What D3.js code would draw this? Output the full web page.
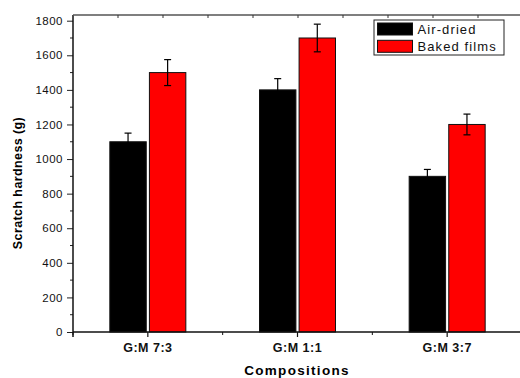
<!DOCTYPE html>
<html>
<head>
<meta charset="utf-8">
<script src="https://cdn.jsdelivr.net/npm/d3@7"></script>
<style>
  body { margin: 0; background: #fff; }
  svg { display: block; font-family: "Liberation Sans", Arial, sans-serif; }
</style>
</head>
<body>
<svg width="520" height="378"></svg>
<script>
// data
const categories = ['G:M 7:3', 'G:M 1:1', 'G:M 3:7'];
const seriesNames = ['Air-dried', 'Baked films'];
const airDried = [1100, 1400, 900];
const airDriedErr = [50, 65, 40];
const baked = [1500, 1700, 1200];
const bakedErr = [75, 80, 60];
const yTicks = [0, 200, 400, 600, 800, 1000, 1200, 1400, 1600, 1800];
const colors = ['#000000', '#ff0000'];

const svg = d3.select('svg');

const plotLeft = 73, plotRight = 522, plotTop = 15, plotBottom = 332;

const y = d3.scaleLinear().domain([0, 1800]).range([plotBottom, 20.7]);
const x = d3.scaleBand().domain(categories).range([plotLeft, plotRight]).padding(0);
const xs = d3.scaleBand().domain(seriesNames).range([-38, 38]).paddingInner(0.08);

const series = [
  { name: seriesNames[0], vals: airDried, errs: airDriedErr, color: colors[0] },
  { name: seriesNames[1], vals: baked, errs: bakedErr, color: colors[1] },
];

// bars
const groups = svg.append('g').selectAll('g')
  .data(series)
  .join('g');

groups.selectAll('rect')
  .data(s => s.vals.map((v, i) => ({ cat: categories[i], v, e: s.errs[i], s })))
  .join('rect')
  .attr('x', d => x(d.cat) + x.bandwidth() / 2 + xs(d.s.name))
  .attr('y', d => y(d.v))
  .attr('width', xs.bandwidth())
  .attr('height', d => plotBottom - y(d.v))
  .attr('fill', d => d.s.color)
  .attr('stroke', '#111')
  .attr('stroke-width', 1);

// error bars
const errs = svg.append('g').attr('stroke', '#000').attr('stroke-width', 1.2);
series.forEach(s => {
  s.vals.forEach((v, i) => {
    const cx = x(categories[i]) + x.bandwidth() / 2 + xs(s.name) + xs.bandwidth() / 2;
    const e = s.errs[i];
    errs.append('line').attr('x1', cx).attr('x2', cx).attr('y1', y(v + e)).attr('y2', y(v - e));
    errs.append('line').attr('x1', cx - 3.5).attr('x2', cx + 3.5).attr('y1', y(v + e)).attr('y2', y(v + e));
    errs.append('line').attr('x1', cx - 3.5).attr('x2', cx + 3.5).attr('y1', y(v - e)).attr('y2', y(v - e));
  });
});

// left axis
const yAxis = d3.axisLeft(y).tickValues(yTicks).tickFormat(d3.format('d')).tickSize(6).tickPadding(4);
const gy = svg.append('g').attr('transform', `translate(${plotLeft},0)`).call(yAxis);
gy.select('.domain').remove();
gy.selectAll('text').attr('font-size', 11.5).attr('letter-spacing', 0.5).attr('fill', '#111');
gy.selectAll('line').attr('stroke', '#222');
// minor ticks
svg.append('g').selectAll('line')
  .data(d3.range(100, 1800, 200))
  .join('line')
  .attr('x1', plotLeft - 3).attr('x2', plotLeft)
  .attr('y1', d => y(d)).attr('y2', d => y(d))
  .attr('stroke', '#222');
svg.append('line')
  .attr('x1', plotLeft).attr('x2', plotLeft).attr('y1', plotTop).attr('y2', plotBottom + 5)
  .attr('stroke', '#111').attr('stroke-width', 1.5);

// bottom axis
const xAxis = d3.axisBottom(x).tickSize(5).tickPadding(6);
const gx = svg.append('g').attr('transform', `translate(0,${plotBottom})`).call(xAxis);
gx.select('.domain').remove();
gx.selectAll('text').attr('font-size', 12.5).attr('font-weight', 'bold')
  .attr('letter-spacing', 0.5).attr('fill', '#111');
gx.selectAll('line').attr('stroke', '#111').attr('stroke-width', 1.2);
svg.append('g').selectAll('line')
  .data(d3.range(categories.length))
  .join('line')
  .attr('x1', i => x(categories[i])).attr('x2', i => x(categories[i]))
  .attr('y1', plotBottom).attr('y2', plotBottom + 3)
  .attr('stroke', '#111');
svg.append('line')
  .attr('x1', plotLeft).attr('x2', 520).attr('y1', plotBottom).attr('y2', plotBottom)
  .attr('stroke', '#111').attr('stroke-width', 1.5);

// top axis
const xTop = d3.scaleLinear().domain([0, 10]).range([plotLeft, plotLeft + 450]);
svg.append('line')
  .attr('x1', plotLeft).attr('x2', 520).attr('y1', plotTop).attr('y2', plotTop)
  .attr('stroke', '#555').attr('stroke-width', 1.5);
svg.append('g').selectAll('line')
  .data(d3.range(1, 10))
  .join('line')
  .attr('x1', d => xTop(d)).attr('x2', d => xTop(d))
  .attr('y1', plotTop).attr('y2', plotTop + 3)
  .attr('stroke', '#333');

// axis titles
svg.append('text')
  .attr('transform', 'translate(22,183) rotate(-90)')
  .attr('text-anchor', 'middle')
  .attr('font-size', 12.5).attr('font-weight', 'bold')
  .attr('letter-spacing', 0.4)
  .text('Scratch hardness (g)');

svg.append('text')
  .attr('x', 297).attr('y', 375)
  .attr('text-anchor', 'middle')
  .attr('font-size', 13.5).attr('font-weight', 'bold')
  .attr('letter-spacing', 1.3)
  .text('Compositions');

// legend
const lg = svg.append('g').attr('transform', 'translate(374,20)');
lg.append('rect').attr('width', 130).attr('height', 35)
  .attr('fill', '#fff').attr('stroke', '#222').attr('stroke-width', 1);
series.forEach((s, i) => {
  lg.append('rect')
    .attr('x', 3.5).attr('y', 3 + i * 17.3)
    .attr('width', 35).attr('height', 12)
    .attr('fill', s.color).attr('stroke', '#111');
  lg.append('text')
    .attr('x', 43.5).attr('y', 14 + i * 17)
    .attr('font-size', 13).attr('letter-spacing', 1.1)
    .attr('fill', '#111')
    .text(s.name);
});
</script>
</body>
</html>
